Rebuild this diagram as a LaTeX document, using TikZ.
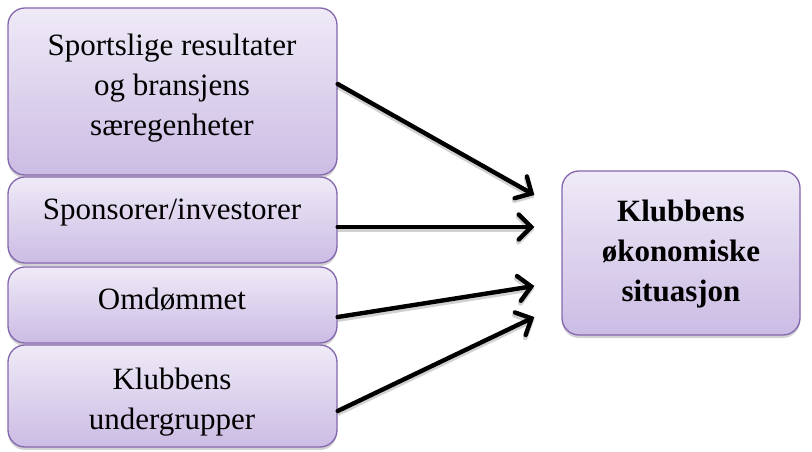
\documentclass[tikz,border=0pt]{standalone}
\usepackage{fontspec}
\setmainfont{Liberation Serif}
\usetikzlibrary{arrows.meta,shadows,calc}
\definecolor{boxtop}{HTML}{EFEAF7}
\definecolor{boxbot}{HTML}{CBBCE4}
\definecolor{boxline}{HTML}{8467AE}
\begin{document}
\begin{tikzpicture}[x=1pt,y=-1pt,
  box/.style={draw=boxline, line width=1.3pt, rounded corners=17pt,
    top color=boxtop, bottom color=boxbot,
    drop shadow={opacity=0.35, shadow xshift=0pt, shadow yshift=-3pt},
    inner sep=0pt},
  lbl/.style={align=center, font=\fontsize{31}{40}\selectfont, inner sep=0pt},
  arr/.style={line width=4.4pt, line cap=round,
    -{Straight Barb[length=12.5pt,width=25pt,line cap=round]},
    preaction={draw=black, opacity=0.18, line width=5pt,
      transform canvas={yshift=-2.5pt}}}]
  \useasboundingbox (0,0) rectangle (812,452);

  % factor boxes on the left
  \node[box, minimum width=329pt, minimum height=167pt] (b1) at (172.5,91.5) {};
  \node[box, minimum width=329pt, minimum height=86pt]  (b2) at (172.5,220) {};
  \node[box, minimum width=329pt, minimum height=76pt]  (b3) at (172.5,305) {};
  \node[box, minimum width=329pt, minimum height=102pt] (b4) at (172.5,396) {};
  % outcome box on the right
  \node[box, minimum width=238pt, minimum height=164pt] (k) at (681,253) {};

  \node[lbl] (t1) at (172,88) {Sportslige resultater\\og bransjens\\særegenheter};
  \node[lbl] (t2) at (172,213) {Sponsorer/investorer};
  \node[lbl] (t3) at (172,299) {Omdømmet};
  \node[lbl] (t4) at (172,402) {Klubbens\\undergrupper};
  \node[lbl, font=\fontsize{31}{40}\selectfont\bfseries] (tk) at (681,254)
    {Klubbens\\økonomiske\\situasjon};

  % influences
  \draw[arr] ([yshift=7.5pt]b1.east)  -- ($(k.west)+(-27,-58)$);
  \draw[arr] ([yshift=-7pt]b2.east)   -- ($(k.west)+(-27,-26)$);
  \draw[arr] ([yshift=-12pt]b3.east)  -- ($(k.west)+(-27,33)$);
  \draw[arr] ([yshift=-15pt]b4.east)  -- ($(k.west)+(-27,64)$);
\end{tikzpicture}
\end{document}
